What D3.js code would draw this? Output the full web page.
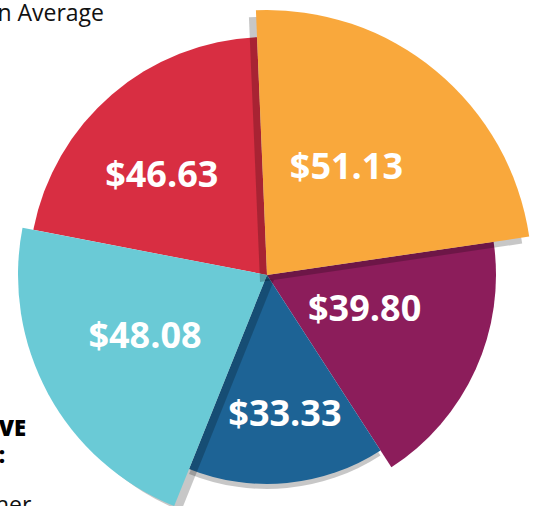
<!DOCTYPE html>
<html>
<head>
<meta charset="utf-8">
<script src="https://cdn.jsdelivr.net/npm/d3@7"></script>
<style>
  body { margin: 0; background: #fff; }
  svg { display: block; font-family: "Open Sans", sans-serif; }
</style>
</head>
<body>
<svg class="chart-pie"></svg>
<script>
// values, in clockwise order starting at the top (orange slice)
const sliceValues = [51.13, 39.80, 33.33, 48.08, 46.63];
const sliceColors = ["#f9a83c", "#8c1d5b", "#1d6395", "#6acad6", "#d82e42"];

// layout per slice (same order)
const sliceRadius = [265, 229, 209, 249, 238];
const shadowOffset = [[-7, 7], [0, 0], [0, 5], [7, 5], [0, 0]];
const labelRadius = [135, 103, 139, 136, 146];
const labelTurn = [-3.6, -5.8, -1.9, 2.4, -5.4]; // degrees
const drawOrder = [4, 1, 2, 3, 0];

let width = 536;
let height = 506;
let cx = 267, cy = 275;
let start = -2.4 * Math.PI / 180;

let svg = d3.select(".chart-pie").attr("width", width).attr("height", height);

let pie = d3.pie().sort(null).startAngle(start).endAngle(start + 2 * Math.PI);
let arcs = pie(sliceValues);

let g = svg.append("g").attr("transform", "translate(" + cx + "," + cy + ")");

let fmt = d3.format("$.2f");

drawOrder.forEach(function(i) {
    let a = arcs[i];
    let arc = d3.arc().innerRadius(0).outerRadius(sliceRadius[i]);
    let off = shadowOffset[i];
    if (off[0] != 0 || off[1] != 0) {
        g.append("path")
            .attr("d", arc(a))
            .attr("transform", "translate(" + off[0] + "," + off[1] + ")")
            .attr("fill", "#000")
            .attr("fill-opacity", 0.22);
    }
    g.append("path")
        .attr("d", arc(a))
        .attr("fill", sliceColors[i]);
});

// labels
arcs.forEach(function(a, i) {
    let ang = (a.startAngle + a.endAngle) / 2 + labelTurn[i] * Math.PI / 180;
    let x = Math.sin(ang) * labelRadius[i];
    let y = -Math.cos(ang) * labelRadius[i];
    g.append("text")
        .attr("x", x)
        .attr("y", y + 13)
        .attr("text-anchor", "middle")
        .attr("fill", "#fff")
        .attr("font-size", 36)
        .attr("font-weight", 700)
        .text(fmt(a.data));
});

// cropped text from the surrounding page
svg.append("text").attr("x", 104).attr("y", 21).attr("text-anchor", "end").attr("font-size", 23).attr("fill", "#111").text("n Average");
svg.append("text").attr("x", 26).attr("y", 436).attr("text-anchor", "end").attr("font-size", 22).attr("font-weight", 800).attr("fill", "#000").text("VE");
svg.append("text").attr("x", 5).attr("y", 463).attr("text-anchor", "end").attr("font-size", 22).attr("font-weight", 800).attr("fill", "#000").text(":");
svg.append("text").attr("x", -5).attr("y", 513).attr("font-size", 23).attr("fill", "#111").text("her");
</script>
</body>
</html>
